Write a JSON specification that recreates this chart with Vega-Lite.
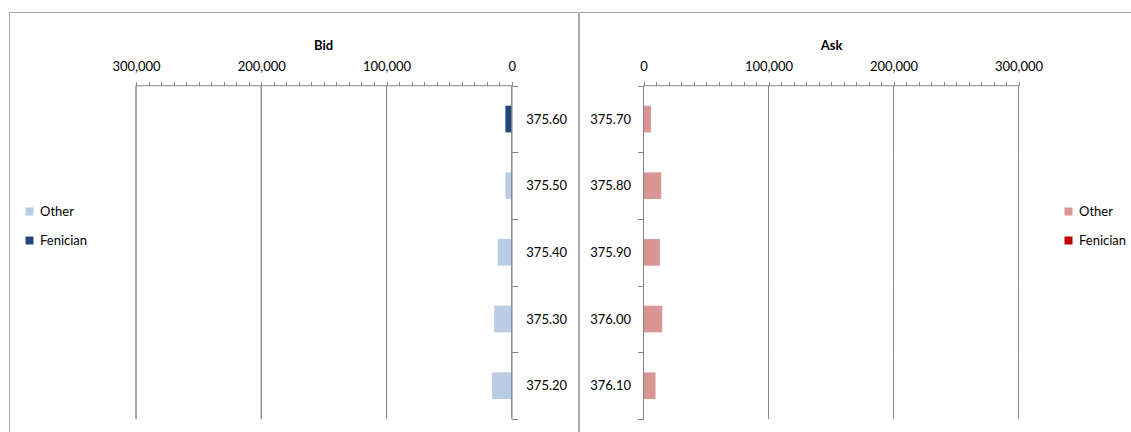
{
  "$schema": "https://vega.github.io/schema/vega-lite/v6.json",
  "padding": {"left": 8, "top": 5, "right": 0, "bottom": 0},
  "background": "white",
  "datasets": {
    "bid": [
      {"price": "375.60", "trader": "Fenician", "volume": 5100},
      {"price": "375.50", "trader": "Other", "volume": 5100},
      {"price": "375.40", "trader": "Other", "volume": 11200},
      {"price": "375.30", "trader": "Other", "volume": 14100},
      {"price": "375.20", "trader": "Other", "volume": 15700}
    ],
    "ask": [
      {"price": "375.70", "trader": "Other", "volume": 5900},
      {"price": "375.80", "trader": "Other", "volume": 14200},
      {"price": "375.90", "trader": "Other", "volume": 13100},
      {"price": "376.00", "trader": "Other", "volume": 15000},
      {"price": "376.10", "trader": "Other", "volume": 9600}
    ]
  },
  "hconcat": [
    {
      "width": 569,
      "height": 425,
      "view": {"stroke": "#a6a6a6", "strokeWidth": 1},
      "data": {"name": "bid"},
      "encoding": {
        "y": {
          "field": "price", "type": "ordinal",
          "sort": ["375.60", "375.50", "375.40", "375.30", "375.20"],
          "scale": {"paddingInner": 0, "paddingOuter": 0.6875, "align": 0.804},
          "axis": {"orient": "right", "offset": -66.2, "title": null, "domain": false, "tickBand": "extent", "tickSize": 6, "labelPadding": 8, "labelFontSize": 13, "grid": false}
        },
        "x": {
          "field": "volume", "type": "quantitative", "stack": "zero",
          "scale": {"domain": [-52847, 401384], "reverse": true, "nice": false, "zero": false},
          "axis": {
            "orient": "top", "offset": -73.7, "title": "Bid", "titleX": 314, "format": ",d", "domain": false,
            "values": [0,10000,20000,30000,40000,50000,60000,70000,80000,90000,100000,110000,120000,130000,140000,150000,160000,170000,180000,190000,200000,210000,220000,230000,240000,250000,260000,270000,280000,290000,300000],
            "labelExpr": "datum.value % 100000 === 0 ? datum.label : ''",
            "grid": false, "tickSize": 4, "labelPadding": 8, "labelFontSize": 13, "labelOverlap": false, "labelFlush": false, "titlePadding": 8
          }
        }
      },
      "layer": [
        {
          "mark": {"type": "rect", "fill": null, "stroke": "#868686", "strokeWidth": 1},
          "encoding": {"x": {"datum": 100000, "type": "quantitative"}, "x2": {"datum": 100000}}
        },
        {
          "mark": {"type": "rect", "fill": null, "stroke": "#868686", "strokeWidth": 1},
          "encoding": {"x": {"datum": 200000, "type": "quantitative"}, "x2": {"datum": 200000}}
        },
        {
          "mark": {"type": "rect", "fill": null, "stroke": "#868686", "strokeWidth": 1},
          "encoding": {"x": {"datum": 300000, "type": "quantitative"}, "x2": {"datum": 300000}}
        },
        {
          "mark": {"type": "bar", "height": {"band": 0.4}},
          "encoding": {
            "color": {
              "field": "trader", "type": "nominal",
              "scale": {"domain": ["Other", "Fenician"], "range": ["#b9cde5", "#1f497d"]},
              "legend": {"title": null, "orient": "none", "legendX": 14, "legendY": 193}
            }
          }
        },
        {
          "mark": {"type": "rect", "fill": null, "stroke": "#868686", "strokeWidth": 1},
          "encoding": {"x": {"datum": 0, "type": "quantitative"}, "x2": {"datum": 0}}
        },
        {
          "transform": [{"filter": "datum.price === '375.60'"}],
          "mark": {"type": "rule", "stroke": "#868686", "strokeWidth": 1},
          "encoding": {
            "x": {"datum": 0, "type": "quantitative"}, "x2": {"datum": 300000},
            "y": {"field": "price", "type": "ordinal", "bandPosition": 0}
          }
        }
      ]
    },
    {
      "width": 560,
      "height": 425,
      "view": {"stroke": "#a6a6a6", "strokeWidth": 1},
      "data": {"name": "ask"},
      "encoding": {
        "y": {
          "field": "price", "type": "ordinal",
          "sort": ["375.70", "375.80", "375.90", "376.00", "376.10"],
          "scale": {"paddingInner": 0, "paddingOuter": 0.6875, "align": 0.804},
          "axis": {"orient": "left", "offset": -64.5, "title": null, "domain": false, "tickBand": "extent", "tickSize": 6, "labelPadding": 7, "labelFontSize": 13, "grid": false}
        },
        "x": {
          "field": "volume", "type": "quantitative", "stack": "zero",
          "scale": {"domain": [-51600, 396400], "nice": false, "zero": false},
          "axis": {
            "orient": "top", "offset": -73.7, "title": "Ask", "titleX": 252, "format": ",d", "domain": false,
            "values": [0,10000,20000,30000,40000,50000,60000,70000,80000,90000,100000,110000,120000,130000,140000,150000,160000,170000,180000,190000,200000,210000,220000,230000,240000,250000,260000,270000,280000,290000,300000],
            "labelExpr": "datum.value % 100000 === 0 ? datum.label : ''",
            "grid": false, "tickSize": 4, "labelPadding": 8, "labelFontSize": 13, "labelOverlap": false, "labelFlush": false, "titlePadding": 8
          }
        }
      },
      "layer": [
        {
          "mark": {"type": "rect", "fill": null, "stroke": "#868686", "strokeWidth": 1},
          "encoding": {"x": {"datum": 100000, "type": "quantitative"}, "x2": {"datum": 100000}}
        },
        {
          "mark": {"type": "rect", "fill": null, "stroke": "#868686", "strokeWidth": 1},
          "encoding": {"x": {"datum": 200000, "type": "quantitative"}, "x2": {"datum": 200000}}
        },
        {
          "mark": {"type": "rect", "fill": null, "stroke": "#868686", "strokeWidth": 1},
          "encoding": {"x": {"datum": 300000, "type": "quantitative"}, "x2": {"datum": 300000}}
        },
        {
          "mark": {"type": "bar", "height": {"band": 0.4}},
          "encoding": {
            "color": {
              "field": "trader", "type": "nominal",
              "scale": {"domain": ["Other", "Fenician"], "range": ["#d99694", "#c00000"]},
              "legend": {"title": null, "orient": "none", "legendX": 483, "legendY": 193}
            }
          }
        },
        {
          "mark": {"type": "rect", "fill": null, "stroke": "#868686", "strokeWidth": 1},
          "encoding": {"x": {"datum": 0, "type": "quantitative"}, "x2": {"datum": 0}}
        },
        {
          "transform": [{"filter": "datum.price === '375.70'"}],
          "mark": {"type": "rule", "stroke": "#868686", "strokeWidth": 1},
          "encoding": {
            "x": {"datum": 0, "type": "quantitative"}, "x2": {"datum": 300000},
            "y": {"field": "price", "type": "ordinal", "bandPosition": 0}
          }
        }
      ]
    }
  ],
  "spacing": 1,
  "bounds": "flush",
  "resolve": {"scale": {"color": "independent"}},
  "config": {
    "font": "Lato",
    "axis": {
      "domainColor": "#868686", "tickColor": "#868686", "gridColor": "#868686",
      "labelColor": "#000000", "titleColor": "#000000", "titleFontWeight": "bold", "titleFontSize": 13,
      "labelFont": "Lato", "titleFont": "Lato", "labelOverlap": false, "labelFlush": false
    },
    "legend": {
      "symbolType": "square", "symbolSize": 64, "symbolStrokeWidth": 0, "labelFontSize": 13, "labelColor": "#000000",
      "rowPadding": 15, "labelOffset": 4, "labelFont": "Lato"
    }
  }
}
